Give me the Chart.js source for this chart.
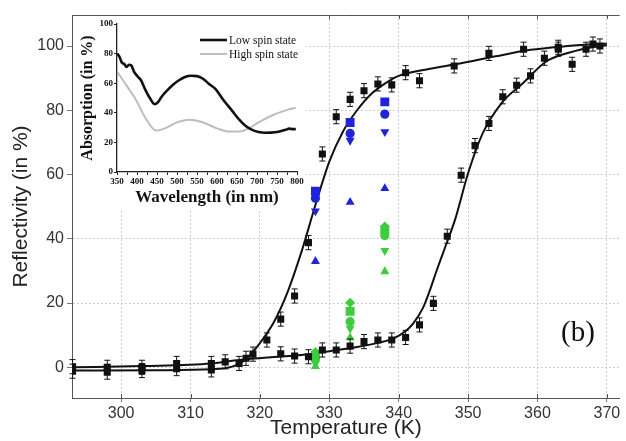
<!DOCTYPE html>
<html><head><meta charset="utf-8">
<script src="https://cdn.jsdelivr.net/npm/chart.js@4.4.0/dist/chart.umd.min.js"></script>
<style>
html,body{margin:0;padding:0;background:#fff;overflow:hidden;width:626px;height:441px;}
#wrap{position:relative;width:626px;height:441px;}
#main{position:absolute;left:0;top:0;}
#inset{position:absolute;left:73px;top:16px;background:#fff;}
#tag{position:absolute;left:561px;top:315px;font:29px 'Liberation Serif','Times New Roman',serif;color:#111;line-height:32px;}
</style></head><body>
<div id="wrap">
<canvas id="main" width="626" height="441"></canvas>
<canvas id="inset" width="233" height="194"></canvas>
<div id="tag">(b)</div>
</div>
<script>
// ---------- main panel data ----------
const tempCool = [293, 298, 303, 308, 313, 317, 319, 321, 323, 325, 327, 329, 331, 333, 335, 337, 339, 341, 343, 348, 353, 358, 363, 368];
const reflCool = [-1.2, -1.5, -1.0, -0.4, -0.8, 1.2, 4.1, 8.5, 15.0, 22.2, 38.8, 66.4, 78.0, 83.4, 86.1, 88.2, 87.9, 91.7, 89.2, 93.8, 97.7, 99.0, 99.6, 100.6];
const errCool  = [2.2, 2.2, 2.2, 2.2, 2.2, 2.2, 2.2, 2.2, 2.2, 2.2, 2.2, 2.2, 2.2, 2.2, 2.2, 2.2, 2.2, 2.2, 2.2, 2.2, 2.2, 2.2, 2.2, 2.2];

const tempHeat = [293, 298, 303, 308, 313, 315, 318, 323, 325, 327, 329, 331, 333, 335, 337, 339, 341, 343, 345, 347, 349, 351, 353, 355, 357, 359, 361, 363, 365, 367, 369];
const reflHeat = [0.2, 0.0, 0.0, 1.2, 1.2, 1.7, 2.8, 4.2, 3.5, 3.3, 5.4, 5.4, 6.6, 8.0, 8.5, 8.5, 9.3, 13.2, 19.9, 40.8, 59.8, 69.0, 75.9, 84.2, 87.8, 90.7, 96.2, 99.0, 94.3, 99.0, 100.0];
const errHeat  = [2.2, 2.2, 2.2, 2.2, 2.2, 2.2, 2.2, 2.2, 2.2, 2.2, 2.2, 2.2, 2.2, 2.2, 2.2, 2.2, 2.2, 2.2, 2.2, 2.2, 2.2, 2.2, 2.2, 2.2, 2.2, 2.2, 2.2, 2.2, 2.2, 2.2, 2.2];

const fitCoolT = [293, 305, 313, 316, 318, 320, 322, 324, 326, 328, 330, 332, 334, 336, 338, 340, 344, 349, 354, 359, 364, 370];
const fitCoolR = [-1.0, -0.9, -0.6, 0.2, 2.5, 7.5, 14.0, 23.5, 36.0, 50.5, 64.0, 73.5, 80.0, 85.0, 88.3, 90.7, 92.7, 94.6, 96.8, 98.8, 99.9, 100.8];

const fitHeatT = [293, 303, 313, 317, 322, 326, 330, 334, 337, 339.3, 341, 342.1, 343.5, 344.5, 345.5, 346.8, 348.1, 350, 352.1, 355, 357.9, 361.2, 364.5, 368.3, 370];
const fitHeatR = [0.0, 0.4, 1.2, 2.3, 3.2, 3.8, 5.0, 6.3, 7.6, 9.0, 11.3, 13.7, 18.5, 24.0, 30.3, 38.0, 45.8, 60.4, 72.8, 82.7, 88.4, 95.1, 97.9, 99.8, 100.2];

const probeT = [328, 333, 338];
const blueSquare  = [54.8, 76.2, 82.6];
const blueCircle  = [52.6, 72.8, 78.8];
const blueDown    = [48.6, 70.6, 73.3];
const blueUp      = [33.0, 51.4, 55.7];
const greenDiamond= [4.8, 20.1, 43.8];
const greenSquare = [3.8, 17.4, 42.8];
const greenCircle = [2.4, 14.2, 41.0];
const greenDown   = [1.2, 12.1, 36.3];
const greenUp     = [0.3, 9.2, 29.8];

const xTicks = [300, 310, 320, 330, 340, 350, 360, 370];
const yTicks = [0, 20, 40, 60, 80, 100];

// ---------- inset data ----------
const wlLow  = [350, 356, 362, 368, 374, 380, 386, 392, 400, 410, 420, 432, 444, 452, 462, 475, 490, 505, 520, 535, 550, 565, 580, 597, 615, 638, 655, 671, 688, 704, 720, 735, 750, 762, 772, 780, 790, 797];
const absLow = [80, 78, 74, 73, 71, 72.5, 72, 68, 65, 62, 56, 50, 45.8, 47, 51, 55, 59, 62, 64.2, 65, 64.8, 63, 59.5, 55.8, 49, 41.3, 35.5, 31.3, 28.5, 27, 26.5, 26.6, 27, 27.8, 28.5, 29.3, 29, 29];
const wlHigh  = [350, 375, 399, 420, 448, 470, 500, 531, 560, 600, 630, 660, 680, 704, 740, 770, 797];
const absHigh = [68, 58, 48, 37, 28, 29.5, 33.5, 35.3, 34, 29.5, 27.3, 27.5, 29.5, 33.5, 38.5, 41.5, 43.5];
const insetXTicks = [350, 375, 400, 425, 450, 475, 500, 525, 550, 575, 600, 625, 650, 675, 700, 725, 750, 775, 800];
const insetYTicks = [0, 20, 40, 60, 80, 100];

const pts = (xs, ys) => xs.map((x, i) => ({x: x, y: ys[i]}));
const SANS = "'Liberation Sans', Arial, Helvetica, sans-serif";
const SERIF = "'Liberation Serif', 'Times New Roman', serif";
const BLUE = '#1f24d6';
const GREEN = '#3ccc3c';

const errorBarPlugin = {
  id: 'errorBars',
  afterDatasetsDraw(chart) {
    const ctx = chart.ctx, xs = chart.scales.x, ys = chart.scales.y;
    chart.data.datasets.forEach((ds) => {
      if (!ds.errorBars) return;
      ctx.save();
      ctx.strokeStyle = '#111';
      ctx.lineWidth = 1;
      ds.data.forEach((p, i) => {
        const e = ds.errorBars[i];
        const px = xs.getPixelForValue(p.x);
        const y1 = ys.getPixelForValue(p.y + e), y2 = ys.getPixelForValue(p.y - e);
        ctx.beginPath();
        ctx.moveTo(px, y1); ctx.lineTo(px, y2);
        ctx.moveTo(px - 3, y1); ctx.lineTo(px + 3, y1);
        ctx.moveTo(px - 3, y2); ctx.lineTo(px + 3, y2);
        ctx.stroke();
      });
      ctx.restore();
    });
  }
};

const framePlugin = {
  id: 'frame',
  afterDraw(chart) {
    const {ctx, chartArea} = chart;
    const xs = chart.scales.x;
    ctx.save();
    ctx.strokeStyle = '#555';
    ctx.lineWidth = 1;
    ctx.beginPath();
    ctx.moveTo(chartArea.left, chartArea.top + 0.5);
    ctx.lineTo(chartArea.right, chartArea.top + 0.5);
    xTicks.forEach(v => {
      const px = Math.round(xs.getPixelForValue(v)) + 0.5;
      ctx.moveTo(px, chartArea.top); ctx.lineTo(px, chartArea.top + 4);
      ctx.moveTo(px, chartArea.bottom); ctx.lineTo(px, chartArea.bottom - 4);
    });
    ctx.stroke();
    ctx.restore();
  }
};

const scatterSet = (label, ys, color, style, radius, rotation) => ({
  label: label, data: pts(probeT, ys), showLine: false,
  pointStyle: style, pointRadius: radius, pointRotation: rotation || 0,
  backgroundColor: color, borderColor: color, borderWidth: 0, order: 1
});

new Chart(document.getElementById('main'), {
  type: 'scatter',
  data: {
    datasets: [
      {label: 'Cooling', data: pts(tempCool, reflCool), errorBars: errCool, showLine: false,
       pointStyle: 'rect', pointRadius: 5, backgroundColor: '#111', borderColor: '#111', borderWidth: 0, order: 1},
      {label: 'Heating', data: pts(tempHeat, reflHeat), errorBars: errHeat, showLine: false,
       pointStyle: 'rect', pointRadius: 5, backgroundColor: '#111', borderColor: '#111', borderWidth: 0, order: 1},
      scatterSet('Blue square', blueSquare, BLUE, 'rect', 6.3),
      scatterSet('Blue circle', blueCircle, BLUE, 'circle', 4.6),
      scatterSet('Blue down', blueDown, BLUE, 'triangle', 5.2, 180),
      scatterSet('Blue up', blueUp, BLUE, 'triangle', 5.2),
      scatterSet('Green diamond', greenDiamond, GREEN, 'rectRot', 5),
      scatterSet('Green square', greenSquare, GREEN, 'rect', 6.3),
      scatterSet('Green circle', greenCircle, GREEN, 'circle', 4.6),
      scatterSet('Green down', greenDown, GREEN, 'triangle', 5.2, 180),
      scatterSet('Green up', greenUp, GREEN, 'triangle', 5.2),
      {label: 'Cooling fit', data: pts(fitCoolT, fitCoolR), showLine: true, pointRadius: 0,
       borderColor: '#111', borderWidth: 2, cubicInterpolationMode: 'monotone', order: 3},
      {label: 'Heating fit', data: pts(fitHeatT, fitHeatR), showLine: true, pointRadius: 0,
       borderColor: '#111', borderWidth: 2, cubicInterpolationMode: 'monotone', order: 3}
    ]
  },
  options: {
    responsive: false, animation: false, devicePixelRatio: 1,
    layout: {padding: {top: 15, right: 0, bottom: 0, left: 0}},
    plugins: {legend: {display: false}, tooltip: {enabled: false}},
    scales: {
      x: {
        type: 'linear', min: 292.92, max: 371.85,
        afterBuildTicks: s => { s.ticks = xTicks.map(v => ({value: v})); },
        afterFit: s => { s.height = 43; },
        grid: {color: '#cdcdcd', tickColor: '#777', tickLength: 4, drawTicks: true},
        border: {display: true, color: '#555', width: 1, dash: [2, 2]},
        ticks: {font: {size: 16, family: SANS}, color: '#333', padding: 2, maxRotation: 0, autoSkip: false},
        title: {display: true, text: 'Temperature (K)', font: {size: 21, family: SANS}, color: '#222', padding: {top: 0, bottom: 0}}
      },
      y: {
        type: 'linear', min: -9.55, max: 109.65,
        afterBuildTicks: s => { s.ticks = yTicks.map(v => ({value: v})); },
        afterFit: s => { s.width = 72; },
        grid: {color: '#cdcdcd', tickColor: '#777', tickLength: 5, drawTicks: true},
        border: {display: true, color: '#555', width: 1, dash: [2, 2]},
        ticks: {font: {size: 16, family: SANS}, color: '#333', padding: 3, autoSkip: false},
        title: {display: true, text: 'Reflectivity (in %)', font: {size: 21, family: SANS}, color: '#222', padding: {top: 9, bottom: 0}}
      }
    }
  },
  plugins: [errorBarPlugin, framePlugin]
});

const insetLegendPlugin = {
  id: 'insetLegend',
  afterDraw(chart) {
    const ctx = chart.ctx;
    const x0 = 127, x1 = 154, yStart = 24, dy = 14;
    chart.data.datasets.forEach((ds, i) => {
      const y = yStart + i * dy;
      ctx.save();
      ctx.strokeStyle = ds.borderColor;
      ctx.lineWidth = ds.borderWidth;
      ctx.beginPath(); ctx.moveTo(x0, y); ctx.lineTo(x1, y); ctx.stroke();
      ctx.fillStyle = '#111';
      ctx.font = '11.5px ' + SERIF;
      ctx.textBaseline = 'middle';
      ctx.fillText(ds.label, x1 + 2, y + 0.5);
      ctx.restore();
    });
  }
};

new Chart(document.getElementById('inset'), {
  type: 'scatter',
  data: {
    datasets: [
      {label: 'Low spin state', data: pts(wlLow, absLow), showLine: true, pointRadius: 0,
       borderColor: '#111', borderWidth: 2.6, cubicInterpolationMode: 'monotone'},
      {label: 'High spin state', data: pts(wlHigh, absHigh), showLine: true, pointRadius: 0,
       borderColor: '#bdbdbd', borderWidth: 2, cubicInterpolationMode: 'monotone'}
    ]
  },
  options: {
    responsive: false, animation: false, devicePixelRatio: 1,
    layout: {padding: {top: 8, right: 9, bottom: 0, left: 0}},
    plugins: {legend: {display: false}, tooltip: {enabled: false}},
    scales: {
      x: {
        type: 'linear', min: 350, max: 800,
        afterBuildTicks: s => { s.ticks = insetXTicks.map(v => ({value: v})); },
        afterFit: s => { s.height = 38; },
        grid: {drawOnChartArea: false, drawTicks: true, tickLength: 3, color: '#222'},
        border: {display: true, color: '#222', width: 1.3},
        ticks: {font: {size: 9, family: SERIF, weight: 'bold'}, color: '#111', padding: 1, maxRotation: 0, autoSkip: false,
                callback: v => (v % 50 === 0 ? String(v) : '')},
        title: {display: true, text: 'Wavelength (in nm)', font: {size: 17, family: SERIF, weight: 'bold'}, color: '#111', padding: {top: 0, bottom: 2}}
      },
      y: {
        type: 'linear', min: 0, max: 100,
        afterBuildTicks: s => { s.ticks = insetYTicks.map(v => ({value: v})); },
        afterFit: s => { s.width = 44; },
        grid: {drawOnChartArea: false, drawTicks: true, tickLength: 3, color: '#222'},
        border: {display: true, color: '#222', width: 1.3},
        ticks: {font: {size: 9, family: SERIF, weight: 'bold'}, color: '#111', padding: 1, autoSkip: false},
        title: {display: true, text: 'Absorption (in %)', font: {size: 16, family: SERIF, weight: 'bold'}, color: '#111', padding: {top: 5, bottom: 0}}
      }
    }
  },
  plugins: [insetLegendPlugin]
});
</script>
</body></html>
